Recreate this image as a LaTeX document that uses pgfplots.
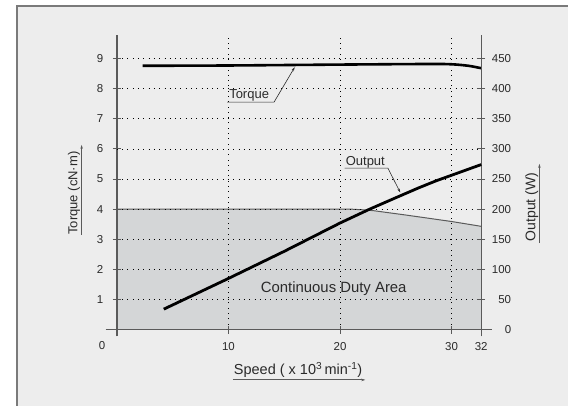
\documentclass[border=0pt]{standalone}
\usepackage{fontspec}
\setmainfont{Liberation Sans}
\usepackage{pgfplots}
\pgfplotsset{compat=1.18}
\usetikzlibrary{arrows.meta}
\definecolor{bg}{HTML}{EDEDED}
\definecolor{duty}{HTML}{D4D6D7}
\definecolor{axgray}{HTML}{5A5A5A}
\definecolor{framegray}{HTML}{7A7A7A}
\definecolor{txt}{HTML}{2A2A2A}

\pgfplotsset{
  motor/.style={
    scale only axis, width=364.7pt, height=294.9pt,
    at={(117pt,76pt)}, anchor=south west,
    xmin=0, xmax=32.65, clip=false,
    axis line style={draw=none,-},
    tick align=center, major tick length=8pt,
    tick style={axgray, line width=0.9pt},
    tick label style={font=\fontsize{11.5}{13}\selectfont, text=txt},
    /pgf/number format/assume math mode=true,
  },
}

\begin{document}
\begin{tikzpicture}[x=1pt,y=1pt]
\fill[white] (0,0) rectangle (569,406);
\fill[bg] (17,0) rectangle (569,400);
\draw[framegray, line width=1.2pt] (17,0) -- (17,400) -- (569,400);

% torque axis (left)
\begin{axis}[motor,
  ymin=0, ymax=9.78,
  axis x line=bottom, axis y line=left,
  axis on top,
  xtick={10,20,30}, ytick={1,2,...,9},
  extra x ticks={32.65}, extra x tick labels={32},
  extra x tick style={grid=none},
  grid=major,
  major grid style={black, line width=0.7pt, dash pattern=on 0.7pt off 4.6pt},
  xticklabel style={yshift=-5pt},
  yticklabel style={xshift=-6pt},
]
\addplot[fill=duty, draw=none] coordinates {
  (0,0) (0,4) (21,4) (22,3.98) (23,3.95) (26,3.8) (30,3.59) (32.65,3.43) (32.65,0)
} -- cycle;
\addplot[axgray, line width=1pt] coordinates {
  (0,4) (21,4) (22,3.98) (23,3.95) (26,3.8) (30,3.59) (32.65,3.43)
};
\addplot[black, line width=2.6pt, smooth] coordinates {
  (2.3,8.76) (10,8.77) (20,8.80) (28,8.82) (30,8.81) (31.5,8.76) (32.65,8.68)
};
\draw[axgray, line width=1.3pt] (axis cs:0,-0.22) -- (axis cs:0,9.78);
\draw[axgray, line width=1.3pt] (axis cs:-1,0) -- (axis cs:33.6,0);
\draw[axgray, line width=1.3pt] (axis cs:32.65,-0.22) -- (axis cs:32.65,9.78);
\end{axis}

% output axis (right)
\begin{axis}[motor,
  ymin=0, ymax=489,
  axis x line=none, axis y line=right,
  ytick={0,50,...,450},
  yticklabel style={anchor=east, xshift=29.5pt},
]
\addplot[black, line width=2.8pt, line join=round] coordinates {
  (4.2,34) (10,85) (15,130) (20,177) (22.65,200) (25,219) (27,235) (28.6,247) (30.7,261) (32.65,274)
};
\end{axis}

% texts
\node[txt, font=\fontsize{11.5}{13}\selectfont] at (102.3,60.3) {0};
\node[txt, anchor=base west, font=\fontsize{13}{15}\selectfont, inner sep=0pt] at (229.3,307.7) {Torque};
\draw[txt, line width=0.6pt, -{Stealth[length=4pt,width=2.5pt]}] (227.3,303.7) -- (274.3,303.7) -- (295,338.7);
\node[txt, anchor=base west, font=\fontsize{13}{15}\selectfont, inner sep=0pt] at (346,240.3) {Output};
\draw[txt, line width=0.6pt, -{Stealth[length=4pt,width=2.5pt]}] (345,237.7) -- (388.3,237.7) -- (400.7,213.3);
\node[txt, anchor=base west, font=\fontsize{14.9}{17}\selectfont, inner sep=0pt] at (261,113.3) {Continuous Duty Area};
\node[txt, anchor=base west, font=\fontsize{14.5}{17}\selectfont, inner sep=0pt] at (234,30.7) {Speed ( x 10\textsuperscript{3}\,min\textsuperscript{-1})};
\draw[axgray, line width=1pt, -{Stealth[length=4pt,width=2.5pt]}] (233,25.7) -- (365.7,25.7);
\node[txt, anchor=base west, rotate=90, font=\fontsize{13}{15}\selectfont, inner sep=0pt] at (77.5,171) {Torque (cN·m)};
\draw[axgray, line width=1pt, -{Stealth[length=4pt,width=2.5pt]}] (81.7,171) -- (81.7,261);
\node[txt, anchor=base west, rotate=90, font=\fontsize{14}{16}\selectfont, inner sep=0pt] at (536,164.3) {Output (W)};
\draw[axgray, line width=1pt, -{Stealth[length=4pt,width=2.5pt]}] (540,162.7) -- (540,242);
\end{tikzpicture}
\end{document}
